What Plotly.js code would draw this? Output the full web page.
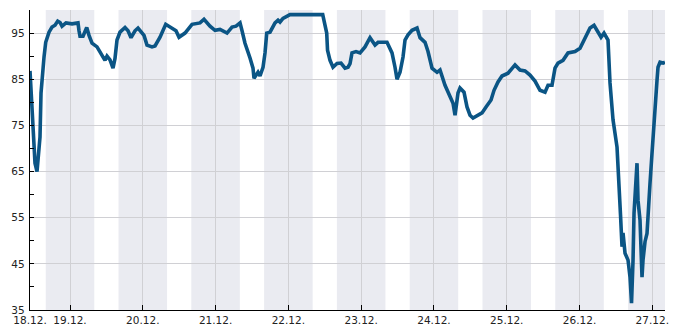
<!DOCTYPE html>
<html>
<head>
<meta charset="utf-8">
<script src="https://cdn.plot.ly/plotly-3.0.1.min.js"></script>
<style>
html,body{margin:0;padding:0;background:#fff;}
#chart{width:685px;height:330px;}
</style>
</head>
<body>
<div id="chart"></div>
<script>
// hours since 18.12. 00:00
const hours = [10.81,10.98,11.47,12.13,12.46,13.12,13.45,14.11,14.44,15.00,15.43,15.99,16.42,17.08,18.07,19.06,19.95,20.71,21.37,22.68,24.66,26.64,26.97,27.30,28.29,29.51,30.27,31.26,32.91,34.55,35.54,36.20,37.19,38.18,38.84,39.50,40.49,42.14,43.13,44.12,45.43,46.42,47.74,48.40,49.39,51.04,52.03,53.68,55.56,57.64,58.95,59.94,61.92,64.23,66.87,68.19,70.16,71.81,73.46,75.77,77.42,78.74,80.06,80.72,81.70,83.35,84.34,84.67,85.99,86.65,87.64,88.30,88.86,89.95,91.60,92.59,93.24,94.23,96.54,99.84,103.14,107.32,108.64,108.91,109.73,110.72,112.04,113.36,114.68,115.67,116.33,116.98,118.30,119.62,121.27,122.92,124.57,125.56,128.52,130.17,131.16,131.82,132.81,133.80,134.46,135.45,136.77,138.42,139.41,141.05,142.04,143.36,145.01,146.00,147.65,149.30,150.29,150.95,151.93,152.59,153.91,154.90,155.89,156.88,158.53,159.85,161.17,162.82,163.81,165.12,166.44,168.42,170.73,172.37,174.03,175.67,177.32,178.97,180.62,181.61,182.93,183.91,184.91,186.56,188.20,190.51,192.16,193.81,195.46,196.78,198.10,199.09,200.07,201.39,202.05,202.71,203.04,204.36,205.02,205.51,206.01,206.34,207.00,207.99,208.65,209.14,209.64,209.97,210.95,211.28,211.94,212.60,212.93,213.59,214.25,214.75,215.24,215.90,216.40,216.89,217.55,217.88,218.54,219.53,220.18];
const values = [86.8,85,77.7,72.5,66.8,65,68.2,72.5,82,87,89.8,93,94,95.2,96.3,96.7,97.6,97.3,96.5,97.2,97,97.2,95.5,94.3,94.3,96.2,94.5,92.8,92,90.2,89.1,90,89.2,87.4,89.5,93.5,95.2,96.2,95.5,94,95.5,96.1,95.2,94.5,92.4,92,92.2,94.1,96.9,96,95.5,94.1,95,96.9,97.2,98,96.5,95.6,95.8,95,96.3,96.5,97.2,95.5,92.8,89.6,87.4,85.2,86.5,85.7,87.6,90.7,95,95.2,97.2,97.8,97.4,98.2,99,99,99,99,95,91.3,89.1,87.6,88.4,88.5,87.4,87.6,88.4,90.7,91,90.7,92,94,92.4,93,93,90.7,87.6,85,86.5,89.8,93.5,94.6,95.6,96.1,94,93,91,87.4,86.5,87,83.7,81.1,79.8,77.2,82,83.1,82.2,79,77.2,76.6,77.2,77.7,79,80.5,82.6,84.4,85.7,86.3,88.1,87,86.8,85.9,84.6,82.6,82.2,83.7,83.7,87.4,88.5,89.1,90.7,91,91.7,94.1,96.1,96.7,95.2,94.1,95,93.5,84.2,79.8,76.2,70.3,63.2,55.6,48.7,51.7,47.3,45.8,42.1,36.5,45.8,56,66.8,58.8,54.5,42.1,45.8,49.8,51.6,56,62.5,69,74.6,80,84.8,87.6,88.7,88.5,88.7];

const tickHours = [10.83,24,48,72,96,120,144,168,192,216];
const tickLabels = ['18.12.','19.12.','20.12.','21.12.','22.12.','23.12.','24.12.','25.12.','26.12.','27.12.'];
const nightStartHours = [16,40,64,88,112,136,160,184,208];
const nightEndHours = [32,56,80,104,128,152,176,200,224];
const xStartHour = 10.81, xEndHour = 220.18;

function hToDate(h){
  const d = new Date(Date.UTC(2023,11,18) + h*3600000);
  return d.toISOString().slice(0,23).replace('T',' ');
}

const shapes = nightStartHours.map((s,i)=>({
  type:'rect', xref:'x', yref:'paper', x0:hToDate(s), x1:hToDate(nightEndHours[i]), y0:0, y1:1,
  fillcolor:'#eaebf1', line:{width:0}, layer:'below'
}));

const trace = {
  x: hours.map(hToDate), y: values, type:'scatter', mode:'lines',
  line:{color:'#0b5585', width:3.6}, hoverinfo:'none'
};

const layout = {
  width:685, height:330,
  margin:{l:30, r:20, t:10, b:20, pad:0},
  paper_bgcolor:'#ffffff', plot_bgcolor:'rgba(0,0,0,0)',
  showlegend:false,
  font:{family:'DejaVu Sans', size:10.5, color:'#222'},
  shapes: shapes,
  xaxis:{
    type:'date', range:[hToDate(xStartHour), hToDate(xEndHour)],
    tickmode:'array', tickvals: tickHours.map(hToDate), ticktext: tickLabels,
    ticks:'inside', ticklen:5, tickcolor:'#000', tickwidth:1,
    showgrid:true, gridcolor:'#d0d0d4', gridwidth:1,
    showline:true, linecolor:'#000', linewidth:1.2,
    zeroline:false, tickfont:{size:10.5, color:'#222'}, layer:'below traces'
  },
  yaxis:{
    range:[35,100], tick0:35, dtick:10,
    ticks:'inside', ticklen:4, tickcolor:'#000', tickwidth:1,
    minor:{tick0:35, dtick:5, ticks:'inside', ticklen:4, tickcolor:'#000', showgrid:false},
    showgrid:true, gridcolor:'#d0d0d4', gridwidth:1,
    showline:true, linecolor:'#000', linewidth:1.2,
    zeroline:false, tickfont:{size:10.5, color:'#222'}, ticklabelstandoff:2
  }
};

Plotly.newPlot('chart',[trace],layout,{displayModeBar:false, staticPlot:true});
</script>
</body>
</html>
